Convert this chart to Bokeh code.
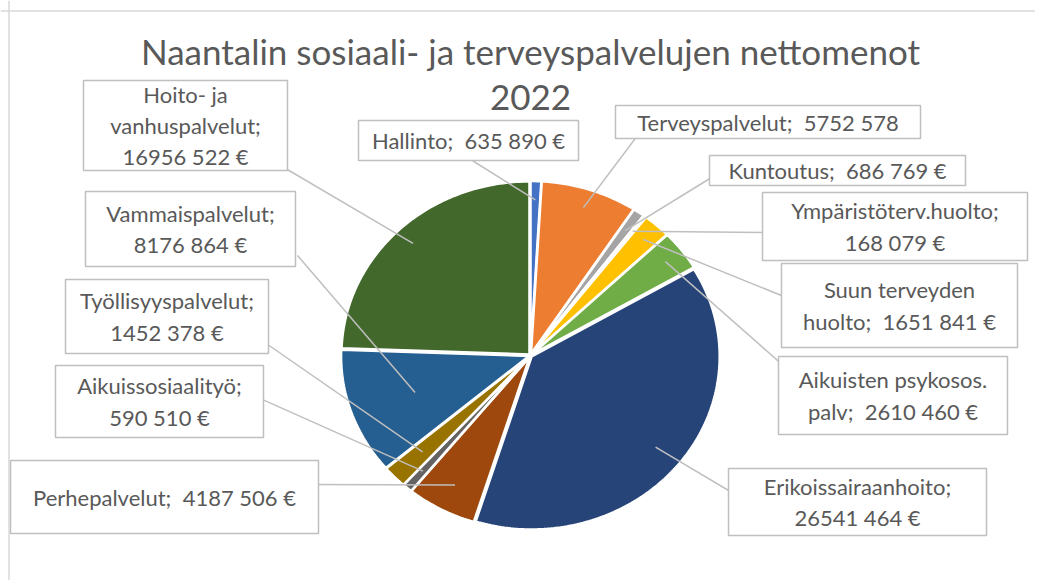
import math
from bokeh.plotting import figure
from bokeh.models import Range1d, Span, ColumnDataSource
from bokeh.core.properties import value
from bokeh.embed import file_html
from bokeh.resources import INLINE

# ---------------- data ----------------
categories = ["Hallinto", "Terveyspalvelut", "Kuntoutus", "Ympäristöterv.huolto",
              "Suun terveyden huolto", "Aikuisten psykosos. palv", "Erikoissairaanhoito",
              "Perhepalvelut", "Aikuissosiaalityö", "Työllisyyspalvelut",
              "Vammaispalvelut", "Hoito- ja vanhuspalvelut"]
values = [635890, 5752578, 686769, 168079, 1651841, 2610460, 26541464,
          4187506, 590510, 1452378, 8176864, 16956522]
S = ";\u00a0 "
label_texts = ["Hallinto" + S + "635 890 €",
               "Terveyspalvelut" + S + "5752 578",
               "Kuntoutus" + S + "686 769 €",
               "Ympäristöterv.huolto;\n168 079 €",
               "Suun terveyden\nhuolto" + S + "1651 841 €",
               "Aikuisten psykosos.\npalv" + S + "2610 460 €",
               "Erikoissairaanhoito;\n26541 464 €",
               "Perhepalvelut" + S + "4187 506 €",
               "Aikuissosiaalityö;\n590 510 €",
               "Työllisyyspalvelut;\n1452 378 €",
               "Vammaispalvelut;\n8176 864 €",
               "Hoito- ja\nvanhuspalvelut;\n16956 522 €"]
title_lines = ["Naantalin sosiaali- ja terveyspalvelujen nettomenot", "2022"]

# ---------------- style / layout ----------------
colors = ["#4472C4", "#ED7D31", "#A5A5A5", "#BFBFBF", "#FFC000", "#70AD47",
          "#264478", "#9E480E", "#636363", "#997300", "#255E91", "#43682B"]
CX, CY, RX, RY = 530, 355, 188, 173
EXPLODE = 1.5
# label boxes: left, right, top, bottom (pixels)
boxes = [(358, 578, 120, 160), (615, 920, 105, 138), (709, 965, 155, 185),
         (762, 1027, 192, 260), (781, 1017, 263, 347), (778, 1007, 356, 434),
         (728, 986, 468, 535), (10, 318, 460, 533), (55, 263, 365, 437),
         (65, 268, 279, 353), (85, 295, 191, 266), (83, 287, 80, 170)]
# leader line starting points (at the labels)
leader_start = [(467, 157), (640, 131), (711, 177), (778, 232), (808, 306),
                (793, 374), (750, 503), (310, 484), (253, 395), (260, 339),
                (297, 255), (263, 155)]
leader_r = [0.9, 0.9, 0.88, 0.9, 0.9, 0.9, 0.85, 0.85, 0.88, 0.8, 0.65, 0.9]

p = figure(width=1035, height=580, x_range=Range1d(0, 1035), y_range=Range1d(580, 0),
           toolbar_location=None, output_backend="svg", min_border=0)
p.axis.visible = False
p.grid.visible = False
p.outline_line_color = None
p.background_fill_color = "white"

# chart area border (left & top visible)
p.add_layout(Span(location=8.5, dimension="height", line_color="#D9D9D9", line_width=1.5))
p.add_layout(Span(location=10.5, dimension="width", line_color="#D9D9D9", line_width=1.5))

# ---------------- pie slices ----------------
total = float(sum(values))
xs, ys, mids = [], [], []
cum = 0.0
for v in values:
    a0 = cum / total * 2 * math.pi
    cum += v
    a1 = cum / total * 2 * math.pi
    am = (a0 + a1) / 2
    mids.append(am)
    ox = EXPLODE * math.sin(am)
    oy = -EXPLODE * math.cos(am)
    n = max(2, int((a1 - a0) / (2 * math.pi) * 360))
    px = [CX + ox]
    py = [CY + oy]
    for i in range(n + 1):
        a = a0 + (a1 - a0) * i / n
        px.append(CX + ox + RX * math.sin(a))
        py.append(CY + oy - RY * math.cos(a))
    xs.append(px)
    ys.append(py)

p.patches(xs, ys, fill_color=colors, line_color="white", line_width=2.5)

# ---------------- leader lines ----------------
x0 = [s[0] for s in leader_start]
y0 = [s[1] for s in leader_start]
x1 = [CX + r * RX * math.sin(a) for r, a in zip(leader_r, mids)]
y1 = [CY - r * RY * math.cos(a) for r, a in zip(leader_r, mids)]
p.segment(x0, y0, x1, y1, line_color="#BFBFBF", line_width=1.5)

# ---------------- label boxes ----------------
src = ColumnDataSource(dict(
    left=[b[0] for b in boxes], right=[b[1] for b in boxes],
    top=[b[2] for b in boxes], bottom=[b[3] for b in boxes],
    tx=[(b[0] + b[1]) / 2 for b in boxes], ty=[(b[2] + b[3]) / 2 for b in boxes],
    text=label_texts))
p.quad(left="left", right="right", top="top", bottom="bottom", source=src,
       fill_color="white", line_color="#BFBFBF", line_width=1.5)
p.text(x="tx", y="ty", text="text", source=src, text_align="center",
       text_baseline="middle", text_font=value("Lato"), text_font_size="22px",
       text_color="#595959", text_line_height=1.15)

# ---------------- title ----------------
p.text(x=[530, 530], y=[50, 97], text=title_lines, text_align="center",
       text_baseline="middle", text_font=value("Lato"), text_font_size="35px",
       text_color="#595959")

open("out.html", "w").write(file_html(p, INLINE))
